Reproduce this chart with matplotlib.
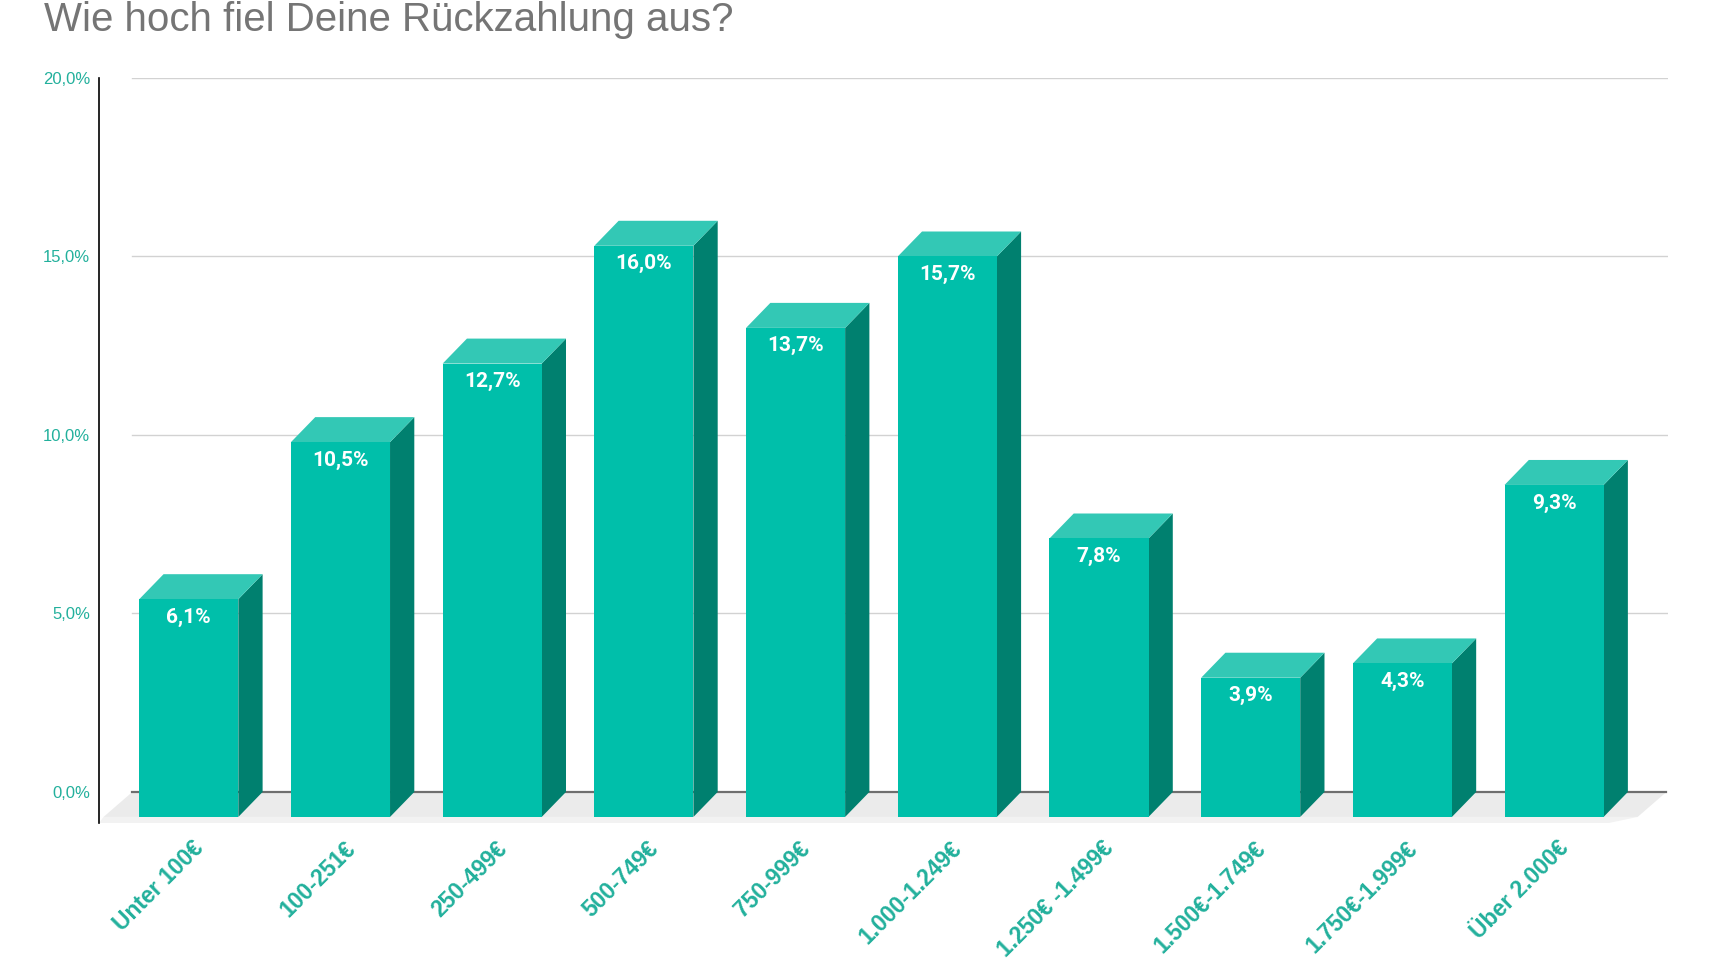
import matplotlib
matplotlib.use("Agg")
import matplotlib.pyplot as plt
from matplotlib.patches import Polygon

plt.rcParams["font.family"] = ["Liberation Sans", "DejaVu Sans"]

titel = "Wie hoch fiel Deine Rückzahlung aus?"
kategorien = [
    "Unter 100€", "100-251€", "250-499€", "500-749€", "750-999€",
    "1.000-1.249€", "1.250€ -1.499€", "1.500€-1.749€", "1.750€-1.999€", "Über 2.000€",
]
werte = [6.1, 10.5, 12.7, 16.0, 13.7, 15.7, 7.8, 3.9, 4.3, 9.3]
y_ticks = [0, 5, 10, 15, 20]

FRONT = "#00BFAA"
SEITE = "#00806F"
OBEN = "#33C8B5"
TUERKIS = "#22B09C"
BODEN = "#EBEBEB"

BREITE = 0.653
TIEFE_X = 0.16
TIEFE_Y = 0.70
Y_UNTEN = -0.87
BODEN_X = 0.19

B, H = 1712, 963
fig = plt.figure(figsize=(B / 100, H / 100), dpi=100)
ax = fig.add_axes([99 / B, 1 - 823 / H, (1668 - 99) / B, (823 - 78) / H])
x_min, x_max = -0.592, 9.751
ax.set_xlim(x_min, x_max)
ax.set_ylim(Y_UNTEN, 20)

# Boden (grau, leicht perspektivisch)
gitter_start = x_min + BODEN_X + 0.03
boden = Polygon([(gitter_start - BODEN_X, -TIEFE_Y), (x_max - BODEN_X - 0.01, -TIEFE_Y),
                 (x_max - 0.01, 0), (gitter_start, 0)],
                closed=True, facecolor=BODEN, edgecolor="none", zorder=1)
ax.add_patch(boden)
kante = Polygon([(gitter_start - BODEN_X - 0.03, Y_UNTEN), (x_max - BODEN_X - 0.2, Y_UNTEN),
                 (x_max - BODEN_X - 0.01, -TIEFE_Y), (gitter_start - BODEN_X, -TIEFE_Y)],
                closed=True, facecolor="#F2F2F2", edgecolor="none", zorder=1)
ax.add_patch(kante)

# Gitterlinien
for t in y_ticks:
    if t == 0:
        ax.plot([gitter_start, x_max - 0.01], [0, 0], color="#6E6E6E", lw=1.6, zorder=2)
    else:
        ax.plot([gitter_start, x_max], [t, t], color="#D2D2D2", lw=1.0, zorder=2)

# 3D-Saeulen
for i, v in enumerate(werte):
    links = i - BREITE / 2
    rechts = i + BREITE / 2
    seite = Polygon([(rechts, -TIEFE_Y), (rechts + TIEFE_X, 0), (rechts + TIEFE_X, v),
                     (rechts, v - TIEFE_Y)], closed=True, facecolor=SEITE, edgecolor="none", zorder=3)
    oben = Polygon([(links, v - TIEFE_Y), (rechts, v - TIEFE_Y), (rechts + TIEFE_X, v),
                    (links + TIEFE_X, v)], closed=True, facecolor=OBEN, edgecolor="none", zorder=3)
    front = Polygon([(links, -TIEFE_Y), (rechts, -TIEFE_Y), (rechts, v - TIEFE_Y),
                     (links, v - TIEFE_Y)], closed=True, facecolor=FRONT, edgecolor="none", zorder=4)
    ax.add_patch(seite)
    ax.add_patch(oben)
    ax.add_patch(front)

    text = f"{v:.1f}".replace(".", ",") + "%"
    ax.annotate(text, xy=(i, v - TIEFE_Y), xytext=(0, -13), textcoords="offset points",
                ha="center", va="center", color="white", fontsize=15,
                fontweight="bold", family=["Roboto", "DejaVu Sans"], zorder=5)

    ax.annotate(kategorien[i], xy=(i + 0.02, Y_UNTEN), xytext=(0, -10), textcoords="offset points",
                ha="right", va="top", rotation=45, rotation_mode="anchor",
                color=TUERKIS, fontsize=16.5, fontweight="bold", annotation_clip=False)

# Achsen
for s in ["top", "right", "bottom"]:
    ax.spines[s].set_visible(False)
ax.spines["left"].set_color("black")
ax.spines["left"].set_linewidth(1.2)
ax.set_xticks([])
ax.set_yticks(y_ticks)
ax.set_yticklabels([f"{t:.1f}".replace(".", ",") + "%" for t in y_ticks])
ax.tick_params(axis="y", length=0, pad=6.5, labelcolor=TUERKIS, labelsize=12)

fig.text(44 / B, 1 - 31 / H, titel, fontsize=29, color="#757575", ha="left", va="baseline")

fig.savefig("out.png", dpi=100)
